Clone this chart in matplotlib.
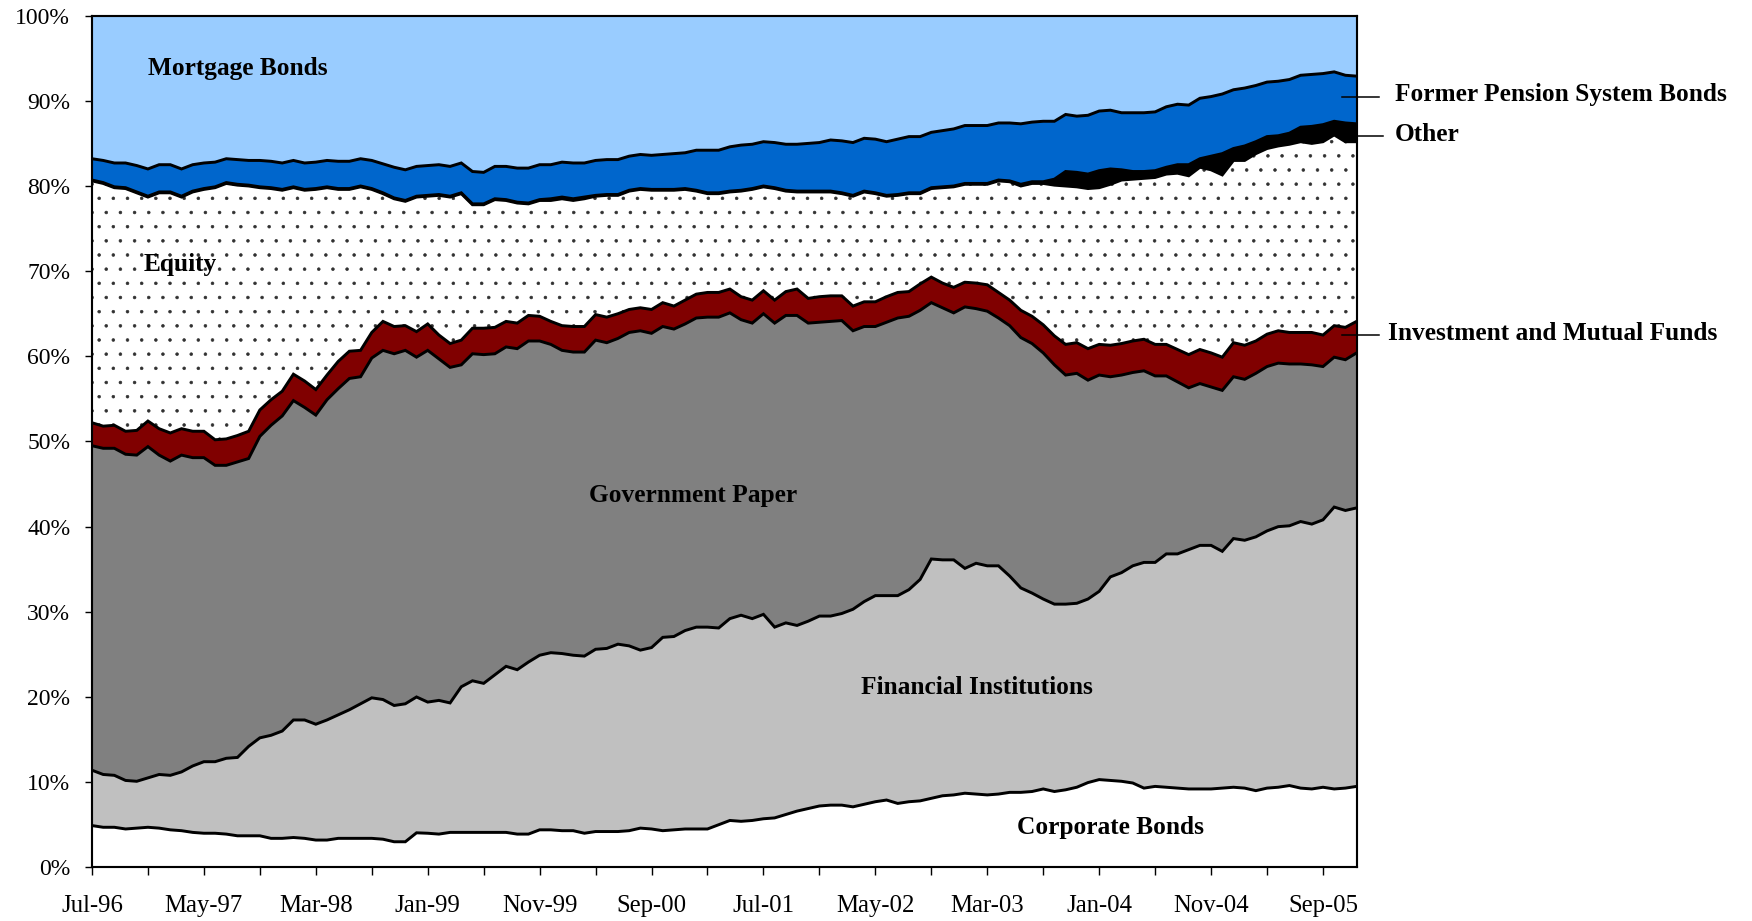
"""
Composition of pension fund portfolios, Jul-96 to Dec-05 (100% stacked area).
"""

import numpy as np
import pandas as pd
import matplotlib
matplotlib.use("Agg")
import matplotlib.pyplot as plt


months = pd.date_range("1996-07-01", "2005-12-01", freq="MS")

# cumulative share of the portfolio (%), bottom to top
corporate_top = [
    4.9, 4.7, 4.7, 4.5, 4.6, 4.7, 4.6, 4.4, 4.3, 4.1,
    4.0, 4.0, 3.9, 3.7, 3.7, 3.7, 3.4, 3.4, 3.5, 3.4,
    3.2, 3.2, 3.4, 3.4, 3.4, 3.4, 3.3, 3.0, 3.0, 4.05,
    4.0, 3.9, 4.1, 4.1, 4.1, 4.1, 4.1, 4.1, 3.9, 3.9,
    4.4, 4.4, 4.3, 4.3, 4.0, 4.2, 4.2, 4.2, 4.3, 4.6,
    4.5, 4.3, 4.4, 4.5, 4.5, 4.5, 5.0,
    5.5, 5.4, 5.5, 5.7, 5.8, 6.2, 6.6, 6.9, 7.2, 7.3,
    7.3, 7.1, 7.4, 7.7, 7.9, 7.5, 7.7, 7.8, 8.1, 8.4,
    8.5, 8.7, 8.6, 8.5, 8.6, 8.8, 8.8, 8.9, 9.2, 8.9,
    9.1, 9.4, 9.95, 10.3, 10.2, 10.1, 9.9, 9.3, 9.5, 9.4,
    9.3, 9.2, 9.2, 9.2, 9.3, 9.4, 9.3, 9.0, 9.3, 9.4,
    9.6, 9.3, 9.2, 9.4, 9.2, 9.3, 9.5,
]
financial_top = [
    11.4, 10.9, 10.8, 10.2, 10.1, 10.5, 10.9, 10.8, 11.2, 11.9,
    12.4, 12.4, 12.8, 12.9, 14.2, 15.2, 15.5, 16.0, 17.3, 17.3,
    16.8, 17.3, 17.9, 18.5, 19.2, 19.9, 19.7, 19.0, 19.2, 20.0,
    19.4, 19.6, 19.3, 21.2, 21.9, 21.6, 22.6, 23.6, 23.2, 24.1,
    24.9, 25.2, 25.1, 24.9, 24.8, 25.6, 25.7, 26.2, 26.0, 25.5,
    25.8, 27.0, 27.1, 27.8, 28.2, 28.2, 28.1,
    29.2, 29.6, 29.2, 29.7, 28.2, 28.7, 28.4, 28.9, 29.5, 29.5,
    29.8, 30.3, 31.2, 31.9, 31.9, 31.9, 32.6, 33.8, 36.2, 36.1,
    36.1, 35.1, 35.7, 35.4, 35.4, 34.2, 32.8, 32.2, 31.5, 30.9,
    30.9, 31.0, 31.5, 32.4, 34.1, 34.6, 35.4, 35.8, 35.8, 36.8,
    36.8, 37.3, 37.8, 37.8, 37.1, 38.6, 38.4, 38.8, 39.5, 40.0,
    40.1, 40.6, 40.3, 40.8, 42.3, 41.9, 42.2,
]
government_top = [
    49.5, 49.2, 49.2, 48.5, 48.4, 49.4, 48.4, 47.7, 48.4, 48.1,
    48.1, 47.2, 47.2, 47.6, 48.0, 50.6, 51.9, 53.0, 54.8, 54.0,
    53.1, 54.9, 56.2, 57.4, 57.6, 59.8, 60.7, 60.3, 60.7, 59.9,
    60.7, 59.7, 58.7, 59.0, 60.3, 60.2, 60.3, 61.1, 60.9, 61.8,
    61.8, 61.4, 60.7, 60.5, 60.5, 61.9, 61.6, 62.1, 62.8, 63.0,
    62.7, 63.5, 63.2, 63.8, 64.5, 64.6, 64.6,
    65.1, 64.3, 63.9, 65.0, 63.9, 64.8, 64.8, 63.9, 64.0, 64.1,
    64.2, 63.0, 63.5, 63.5, 64.0, 64.5, 64.7, 65.4, 66.3, 65.7,
    65.1, 65.8, 65.6, 65.3, 64.5, 63.6, 62.2, 61.5, 60.4, 59.0,
    57.8, 58.0, 57.2, 57.8, 57.6, 57.8, 58.1, 58.3, 57.7, 57.7,
    57.0, 56.3, 56.8, 56.4, 56.0, 57.6, 57.3, 58.0, 58.8, 59.2,
    59.1, 59.1, 59.0, 58.8, 59.9, 59.6, 60.4,
]
funds_top = [
    52.2, 51.8, 51.9, 51.2, 51.3, 52.4, 51.5, 51.0, 51.5, 51.2,
    51.2, 50.2, 50.3, 50.7, 51.2, 53.7, 54.9, 55.9, 57.9, 57.1,
    56.1, 57.8, 59.4, 60.6, 60.7, 62.8, 64.1, 63.5, 63.6, 62.9,
    63.8, 62.5, 61.5, 61.9, 63.3, 63.3, 63.4, 64.1, 63.9, 64.8,
    64.7, 64.1, 63.6, 63.5, 63.5, 64.9, 64.6, 65.0, 65.5, 65.7,
    65.5, 66.3, 65.9, 66.6, 67.3, 67.5, 67.5,
    67.9, 67.0, 66.6, 67.7, 66.6, 67.6, 67.9, 66.8, 67.0, 67.1,
    67.1, 65.9, 66.4, 66.4, 67.0, 67.5, 67.6, 68.5, 69.3, 68.6,
    68.1, 68.7, 68.6, 68.4, 67.5, 66.6, 65.4, 64.7, 63.7, 62.4,
    61.4, 61.6, 60.9, 61.4, 61.3, 61.5, 61.8, 62.0, 61.4, 61.4,
    60.8, 60.2, 60.8, 60.4, 59.9, 61.6, 61.3, 61.8, 62.6, 63.0,
    62.8, 62.8, 62.8, 62.5, 63.6, 63.4, 64.1,
]
equity_top = [
    80.6, 80.3, 79.8, 79.7, 79.2, 78.7, 79.2, 79.2, 78.7, 79.3,
    79.6, 79.8, 80.3, 80.1, 80.0, 79.8, 79.7, 79.5, 79.8, 79.5,
    79.6, 79.8, 79.6, 79.6, 79.9, 79.6, 79.1, 78.5, 78.2, 78.7,
    78.8, 78.9, 78.7, 79.1, 77.8, 77.8, 78.4, 78.3, 78.0, 77.9,
    78.3, 78.3, 78.5, 78.3, 78.5, 78.8, 78.9, 78.9, 79.4, 79.6,
    79.5, 79.5, 79.5, 79.6, 79.4, 79.1, 79.1,
    79.3, 79.4, 79.6, 79.9, 79.7, 79.4, 79.3, 79.3, 79.3, 79.3,
    79.1, 78.8, 79.3, 79.1, 78.8, 78.9, 79.1, 79.1, 79.7, 79.8,
    79.9, 80.2, 80.2, 80.2, 80.6, 80.5, 80.0, 80.3, 80.3, 80.1,
    80.0, 79.9, 79.7, 79.8, 80.2, 80.7, 80.8, 80.9, 81.0, 81.4,
    81.5, 81.2, 82.2, 81.9, 81.3, 83.0, 83.0, 83.8, 84.4, 84.7,
    84.9, 85.2, 85.0, 85.2, 86.0, 85.2, 85.2,
]
other_top = [
    80.7, 80.4, 79.9, 79.8, 79.3, 78.8, 79.3, 79.3, 78.8, 79.4,
    79.7, 79.9, 80.4, 80.2, 80.1, 79.9, 79.8, 79.6, 79.9, 79.6,
    79.7, 79.9, 79.7, 79.7, 80.0, 79.7, 79.2, 78.6, 78.3, 78.8,
    78.9, 79.0, 78.8, 79.2, 77.9, 77.9, 78.5, 78.4, 78.1, 78.0,
    78.4, 78.5, 78.7, 78.5, 78.7, 78.9, 79.0, 79.0, 79.5, 79.7,
    79.6, 79.6, 79.6, 79.7, 79.5, 79.2, 79.2,
    79.4, 79.5, 79.7, 80.0, 79.8, 79.5, 79.4, 79.4, 79.4, 79.4,
    79.2, 78.9, 79.4, 79.2, 78.9, 79.0, 79.2, 79.2, 79.8, 79.9,
    80.0, 80.3, 80.3, 80.3, 80.7, 80.6, 80.2, 80.5, 80.5, 80.8,
    81.7, 81.6, 81.4, 81.8, 82.0, 81.9, 81.7, 81.7, 81.8, 82.2,
    82.5, 82.5, 83.2, 83.5, 83.8, 84.4, 84.7, 85.2, 85.8, 85.9,
    86.2, 86.9, 87.0, 87.2, 87.6, 87.4, 87.3,
]
pension_top = [
    83.2, 83.0, 82.7, 82.7, 82.4, 82.0, 82.5, 82.5, 82.0, 82.5,
    82.7, 82.8, 83.2, 83.1, 83.0, 83.0, 82.9, 82.7, 83.0, 82.7,
    82.8, 83.0, 82.9, 82.9, 83.2, 83.0, 82.6, 82.2, 81.9, 82.3,
    82.4, 82.5, 82.3, 82.7, 81.7, 81.6, 82.3, 82.3, 82.1, 82.1,
    82.5, 82.5, 82.8, 82.7, 82.7, 83.0, 83.1, 83.1, 83.5, 83.7,
    83.6, 83.7, 83.8, 83.9, 84.2, 84.2, 84.2,
    84.6, 84.8, 84.9, 85.2, 85.1, 84.9, 84.9, 85.0, 85.1, 85.4,
    85.3, 85.1, 85.6, 85.5, 85.2, 85.5, 85.8, 85.8, 86.3, 86.5,
    86.7, 87.1, 87.1, 87.1, 87.4, 87.4, 87.3, 87.5, 87.6, 87.6,
    88.4, 88.2, 88.3, 88.8, 88.9, 88.6, 88.6, 88.6, 88.7, 89.3,
    89.6, 89.5, 90.3, 90.5, 90.8, 91.3, 91.5, 91.8, 92.2, 92.3,
    92.5, 93.0, 93.1, 93.2, 93.4, 93.0, 92.9,
]
# mortgage bonds fill the rest up to 100%

series = ["Corporate Bonds", "Financial Institutions", "Government Paper",
          "Investment and Mutual Funds", "Equity", "Other",
          "Former Pension System Bonds", "Mortgage Bonds"]
colors = ["#FFFFFF", "#C0C0C0", "#808080", "#800000",
          "#FFFFFF", "#000000", "#0066CC", "#99CCFF"]

plt.rcParams["font.family"] = ["Liberation Serif", "DejaVu Serif"]
plt.rcParams["hatch.linewidth"] = 0.5

DPI = 85
fig = plt.figure(figsize=(1752 / DPI, 921 / DPI), dpi=DPI)
ax = fig.add_axes([0.0525, 0.0583, 0.7218, 0.9247])

x = np.arange(len(months))
n = len(x)
levels = [np.zeros(n), np.array(corporate_top), np.array(financial_top),
          np.array(government_top), np.array(funds_top), np.array(equity_top),
          np.array(other_top), np.array(pension_top), np.full(n, 100.0)]

for i, name in enumerate(series):
    if name == "Equity":
        ax.fill_between(x, levels[i], levels[i + 1], facecolor="white",
                        edgecolor="#303030", hatch=".", linewidth=0, zorder=1)
    else:
        ax.fill_between(x, levels[i], levels[i + 1], facecolor=colors[i],
                        linewidth=0, zorder=1)

# black borders between the areas
for lev in levels[1:-1]:
    ax.plot(x, lev, color="black", lw=2.5, solid_joinstyle="miter", zorder=3)

ax.set_xlim(0, n - 1)
ax.set_ylim(0, 100)

ax.set_yticks(np.arange(0, 101, 10))
ax.set_yticklabels([f"{v}%" for v in range(0, 101, 10)])
tick_pos = np.arange(0, n, 5)
ax.set_xticks(tick_pos)
ax.set_xticklabels([months[p].strftime("%b-%y") if p % 10 == 0 else "" for p in tick_pos])

ax.tick_params(axis="y", direction="out", length=5.9, width=1.2, pad=12.5, labelsize=20)
ax.tick_params(axis="x", direction="out", length=6.5, width=1.2, pad=17, labelsize=21)
for sp in ax.spines.values():
    sp.set_linewidth(1.8)
    sp.set_zorder(5)

# labels inside the areas
inside = [("Mortgage Bonds", 13.0, 93.8), ("Equity", 7.9, 70.8),
          ("Government Paper", 53.7, 43.6), ("Financial Institutions", 79.1, 21.1),
          ("Corporate Bonds", 91.0, 4.7)]
for txt, tx, ty in inside:
    ax.text(tx, ty, txt, ha="center", va="center", fontsize=21.5,
            fontweight="bold", zorder=6)

# labels on the right with leader lines
outside = [("Former Pension System Bonds", 111.7, 115.0, 90.5, 116.4, 90.8),
           ("Other", 112.9, 115.4, 85.9, 116.4, 86.0),
           ("Investment and Mutual Funds", 111.7, 115.0, 62.5, 115.8, 62.7)]
for txt, x0, x1, ly, tx, ty in outside:
    ax.plot([x0, x1], [ly, ly], color="black", lw=1.3, clip_on=False, zorder=6)
    ax.text(tx, ty, txt, ha="left", va="center", fontsize=21.5,
            fontweight="bold", clip_on=False)

fig.savefig("out.png", dpi=DPI)
